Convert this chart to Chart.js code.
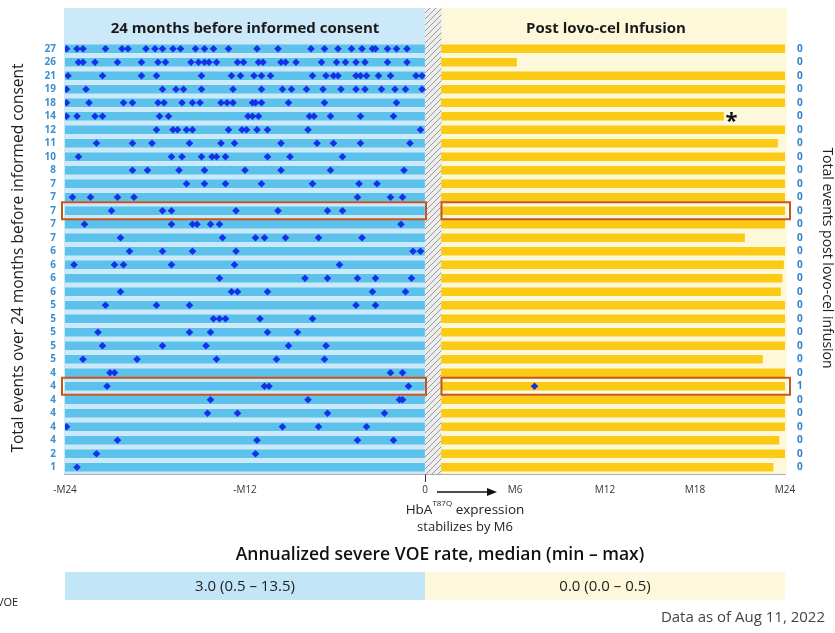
<!DOCTYPE html>
<html>
<head>
<meta charset="utf-8">
<script src="https://cdn.jsdelivr.net/npm/chart.js@4"></script>
<style>
  body { margin: 0; background: #fff; }
  #wrap { width: 835px; height: 633px; }
</style>
</head>
<body>
<div id="wrap"><canvas id="voeChart"></canvas></div>
<script>
// total severe VOEs per patient, 24 months before consent (top row first)
const preCounts = [27, 26, 21, 19, 18, 14, 12, 11, 10, 8, 7, 7, 7, 7, 7, 6, 6, 6, 6, 5, 5, 5, 5, 5, 4, 4, 4, 4, 4, 4, 2, 1]
const postCounts = [0, 0, 0, 0, 0, 0, 0, 0, 0, 0, 0, 0, 0, 0, 0, 0, 0, 0, 0, 0, 0, 0, 0, 0, 0, 1, 0, 0, 0, 0, 0, 0]
// months of follow-up after infusion
const followUp = [24, 6.1, 24, 24, 24, 19.9, 24, 23.5, 24, 24, 24, 24, 24, 24, 21.3, 24, 23.9, 23.8, 23.7, 24, 24, 24, 24, 22.5, 24, 24, 24, 24, 24, 23.6, 24, 23.2]
const infusionEnd = 1.1
// month of each event before consent, one list per patient
const preEvents = [
    [-23.9, -23.2, -22.8, -21.3, -20.2, -19.8, -18.6, -18.0, -17.5, -16.8, -16.3, -15.3, -14.7, -14.1, -13.1, -11.2, -9.8, -7.6, -6.7, -5.8, -4.9, -4.2, -3.5, -3.3, -2.5, -1.9, -1.2],
    [-23.1, -22.8, -22.0, -20.5, -18.9, -17.8, -17.3, -15.6, -15.1, -14.7, -14.4, -13.9, -12.5, -12.1, -11.1, -10.8, -9.6, -9.3, -8.6, -6.9, -5.9, -5.3, -4.6, -4.0, -2.5, -1.2],
    [-23.8, -21.5, -18.9, -17.9, -14.9, -12.9, -12.3, -11.4, -10.9, -10.3, -7.5, -6.6, -6.1, -5.8, -4.6, -4.3, -3.9, -3.1, -2.3, -0.6, -0.2],
    [-23.9, -22.6, -17.5, -16.6, -16.1, -14.9, -12.8, -10.9, -9.5, -8.9, -7.9, -6.8, -5.6, -4.6, -4.0, -2.9, -2.0, -1.3, -0.2],
    [-23.9, -22.4, -20.1, -19.5, -17.8, -17.4, -16.2, -15.5, -15.0, -13.6, -13.2, -12.8, -11.5, -11.3, -10.9, -9.1, -6.7, -1.9],
    [-23.9, -23.2, -22.0, -21.5, -17.7, -17.1, -11.8, -11.5, -11.1, -7.7, -7.4, -6.3, -4.3, -2.1],
    [-17.9, -16.8, -16.5, -15.9, -15.5, -13.1, -12.2, -11.9, -11.2, -10.5, -7.8, -0.3],
    [-21.9, -19.5, -18.2, -15.7, -13.6, -12.7, -9.6, -7.2, -6.1, -4.3, -1.0],
    [-23.1, -16.9, -16.2, -14.9, -14.2, -13.9, -13.3, -10.5, -9.0, -5.5],
    [-19.5, -18.5, -16.4, -14.7, -12.0, -9.6, -6.3, -1.4],
    [-15.9, -14.7, -13.3, -10.9, -7.5, -4.4, -3.2],
    [-23.5, -22.3, -20.5, -19.4, -4.5, -2.3, -1.5],
    [-20.9, -17.5, -16.9, -12.6, -9.8, -6.5, -5.5],
    [-22.7, -16.9, -15.5, -15.2, -14.3, -13.7, -1.6],
    [-20.3, -13.5, -11.3, -10.7, -9.3, -7.1, -4.2],
    [-19.7, -17.5, -15.5, -12.6, -0.8, -0.3],
    [-23.4, -20.7, -20.1, -16.9, -12.7, -5.7],
    [-13.7, -8.0, -6.5, -4.5, -3.3, -0.9],
    [-20.3, -12.9, -12.5, -10.5, -3.5, -1.3],
    [-21.3, -17.9, -15.7, -4.6, -3.3],
    [-14.1, -13.7, -13.3, -11.0, -7.5],
    [-21.8, -15.7, -14.3, -10.5, -8.5],
    [-21.5, -17.5, -14.6, -9.1, -6.6],
    [-22.8, -19.2, -13.9, -9.9, -6.7],
    [-21.0, -20.7, -2.3, -1.5],
    [-21.2, -10.7, -10.4, -1.1],
    [-14.3, -7.8, -1.7, -1.5],
    [-14.5, -12.5, -6.5, -2.7],
    [-23.9, -9.5, -7.1, -3.9],
    [-20.5, -11.2, -4.5, -2.1],
    [-21.9, -11.3],
    [-23.2]
]
const postEventRows = [25]
const postEventMonths = [7.3]
const highlightRows = [12, 25]
const asteriskRow = 5
const xTickValues = [-24, -12, 0, 6, 12, 18, 24]
const xTickLabels = ['-M24', '-M12', '0', 'M6', 'M12', 'M18', 'M24']
const summaryLabels = ['3.0 (0.5 \u2013 13.5)', '0.0 (0.0 \u2013 0.5)']

const rows = preCounts.map((c, i) => i)
const FONT = "'Open Sans', sans-serif"
Chart.defaults.font.family = FONT

// hatched strip between consent and infusion
const hatchCanvas = document.createElement('canvas')
hatchCanvas.width = 6
hatchCanvas.height = 6
const hc = hatchCanvas.getContext('2d')
hc.fillStyle = '#ececec'
hc.fillRect(0, 0, 6, 6)
hc.strokeStyle = '#9c9c9c'
hc.lineWidth = 1
hc.beginPath()
hc.moveTo(0, 6); hc.lineTo(6, 0)
hc.moveTo(-1, 1); hc.lineTo(1, -1)
hc.moveTo(5, 7); hc.lineTo(7, 5)
hc.stroke()

const panels = {
    id: 'panels',
    beforeDatasetsDraw(chart) {
        const {ctx, chartArea, scales: {x}} = chart
        const top = 8
        const bottom = chartArea.bottom
        const x0 = x.getPixelForValue(-24), xz = x.getPixelForValue(0)
        const xi = x.getPixelForValue(infusionEnd), x24 = x.getPixelForValue(24) + 2
        ctx.save()
        ctx.fillStyle = '#cbe9f8'
        ctx.fillRect(x0 - 1, top, xz - x0 + 1, bottom - top)
        ctx.fillStyle = '#fdf8d9'
        ctx.fillRect(xi, top, x24 - xi, bottom - top)
        ctx.fillStyle = ctx.createPattern(hatchCanvas, 'repeat')
        ctx.fillRect(xz, top, xi - xz, bottom - top)
        ctx.fillStyle = '#1a1a1a'
        ctx.font = 'bold 15px ' + FONT
        ctx.textAlign = 'center'
        ctx.textBaseline = 'middle'
        ctx.fillText('24 months before informed consent', (x0 + xz) / 2, 29)
        ctx.fillText('Post lovo-cel Infusion', (xz + x24) / 2, 29)
        ctx.restore()
    },
    afterDatasetsDraw(chart) {
        const {ctx, scales: {x, y}} = chart
        const x0 = x.getPixelForValue(-24), xz = x.getPixelForValue(0)
        const xi = x.getPixelForValue(infusionEnd), x24 = x.getPixelForValue(24)
        ctx.save()
        ctx.strokeStyle = '#c4561c'
        ctx.lineWidth = 2
        highlightRows.forEach(r => {
            const yc = y.getPixelForValue(r)
            ctx.strokeRect(x0 - 3, yc - 8.5, xz - x0 + 4, 17)
            ctx.strokeRect(xi, yc - 8.5, x24 - xi + 5, 17)
        })
        ctx.fillStyle = '#111'
        ctx.font = 'bold 22px ' + FONT
        ctx.textAlign = 'center'
        ctx.textBaseline = 'middle'
        ctx.fillText('*', x.getPixelForValue(followUp[asteriskRow]) + 8, y.getPixelForValue(asteriskRow) + 5)
        ctx.restore()
    },
    afterDraw(chart) {
        const {ctx, scales: {x}} = chart
        const x0 = x.getPixelForValue(-24), xz = x.getPixelForValue(0), x24 = x.getPixelForValue(24)
        ctx.save()
        // arrow to M6
        const ay = 492, a1 = xz + 12, a2 = xz + 72
        ctx.strokeStyle = '#111'
        ctx.fillStyle = '#111'
        ctx.lineWidth = 1.5
        ctx.beginPath()
        ctx.moveTo(a1, ay); ctx.lineTo(a2 - 8, ay)
        ctx.stroke()
        ctx.beginPath()
        ctx.moveTo(a2, ay); ctx.lineTo(a2 - 10, ay - 4); ctx.lineTo(a2 - 10, ay + 4)
        ctx.closePath()
        ctx.fill()

        ctx.textBaseline = 'middle'
        ctx.fillStyle = '#222'
        const cx = 465
        ctx.font = '13.5px ' + FONT
        const w1 = ctx.measureText('HbA').width
        const w3 = ctx.measureText(' expression').width
        ctx.font = '8px ' + FONT
        const w2 = ctx.measureText('T87Q').width
        let sx = cx - (w1 + w2 + w3) / 2
        ctx.textAlign = 'left'
        ctx.font = '13.5px ' + FONT
        ctx.fillText('HbA', sx, 510)
        ctx.font = '8px ' + FONT
        ctx.fillText('T87Q', sx + w1, 504)
        ctx.font = '13.5px ' + FONT
        ctx.fillText(' expression', sx + w1 + w2, 510)
        ctx.textAlign = 'center'
        ctx.font = '13px ' + FONT
        ctx.fillText('stabilizes by M6', cx, 527)

        ctx.fillStyle = '#111'
        ctx.font = '600 17.5px ' + FONT
        ctx.fillText('Annualized severe VOE rate, median (min \u2013 max)', 440, 555)

        ctx.fillStyle = '#c3e5f8'
        ctx.fillRect(x0, 572, xz - x0, 28)
        ctx.fillStyle = '#fdf8dc'
        ctx.fillRect(xz, 572, x24 - xz, 28)
        ctx.fillStyle = '#222'
        ctx.font = '15px ' + FONT
        ctx.fillText(summaryLabels[0], (x0 + xz) / 2, 587)
        ctx.fillText(summaryLabels[1], (xz + x24) / 2, 587)

        ctx.textAlign = 'left'
        ctx.font = '11px ' + FONT
        ctx.fillText('VOE', -3, 603)
        ctx.textAlign = 'right'
        ctx.fillStyle = '#444'
        ctx.font = '15px ' + FONT
        ctx.fillText('Data as of Aug 11, 2022', 825, 618)
        ctx.restore()
    }
}

new Chart(document.getElementById('voeChart'), {
    type: 'bar',
    data: {
        labels: rows,
        datasets: [{
            type: 'scatter',
            data: preEvents.flatMap((months, row) => months.map(m => ({x: m, y: row}))),
            pointStyle: 'rectRot',
            pointRadius: 3.8,
            backgroundColor: '#1530e8',
            borderWidth: 0
        }, {
            type: 'scatter',
            data: postEventMonths.map((m, i) => ({x: m, y: postEventRows[i]})),
            pointStyle: 'rectRot',
            pointRadius: 3.8,
            backgroundColor: '#1530e8',
            borderWidth: 0
        }, {
            data: rows.map(() => [-24, 0]),
            backgroundColor: '#5cc2ec',
            barThickness: 8,
            grouped: false
        }, {
            data: followUp.map(f => [infusionEnd, f]),
            backgroundColor: '#fbca14',
            barThickness: 8,
            grouped: false
        }]
    },
    plugins: [panels],
    options: {
        indexAxis: 'y',
        responsive: true,
        maintainAspectRatio: false,
        animation: false,
        events: [],
        layout: {padding: {top: 42}},
        plugins: {legend: {display: false}, tooltip: {enabled: false}},
        scales: {
            x: {
                type: 'linear',
                min: -24,
                max: 24,
                afterBuildTicks: s => { s.ticks = xTickValues.map(v => ({value: v})) },
                afterFit: s => { s.height = 159 },
                grid: {
                    drawOnChartArea: false,
                    tickLength: 8,
                    color: c => (c.tick && c.tick.value === 0 ? '#333' : 'rgba(0,0,0,0)')
                },
                border: {color: '#5a5a5a', width: 1.5},
                ticks: {
                    autoSkip: false,
                    maxRotation: 0,
                    padding: 2,
                    color: '#333',
                    font: {size: 10},
                    callback: v => xTickLabels[xTickValues.indexOf(v)]
                }
            },
            y: {
                type: 'category',
                offset: true,
                afterFit: s => { s.width = 65 },
                grid: {display: false, drawTicks: false},
                border: {display: false},
                ticks: {
                    autoSkip: false,
                    padding: 9,
                    color: '#3d8fcf',
                    font: {size: 10, weight: 'bold'},
                    callback: v => preCounts[v]
                },
                title: {
                    display: true,
                    text: 'Total events over 24 months before informed consent',
                    color: '#222',
                    font: {size: 15.5},
                    padding: {top: 9}
                }
            },
            y2: {
                type: 'category',
                position: 'right',
                offset: true,
                afterFit: s => { s.width = 50 },
                grid: {display: false, drawTicks: false},
                border: {display: false},
                ticks: {
                    autoSkip: false,
                    padding: 12,
                    color: '#2f80c8',
                    font: {size: 10, weight: 'bold'},
                    callback: v => postCounts[v]
                },
                title: {
                    display: true,
                    text: 'Total events post lovo-cel infusion',
                    color: '#222',
                    font: {size: 14},
                    padding: {top: 0}
                }
            }
        }
    }
})
</script>
</body>
</html>
